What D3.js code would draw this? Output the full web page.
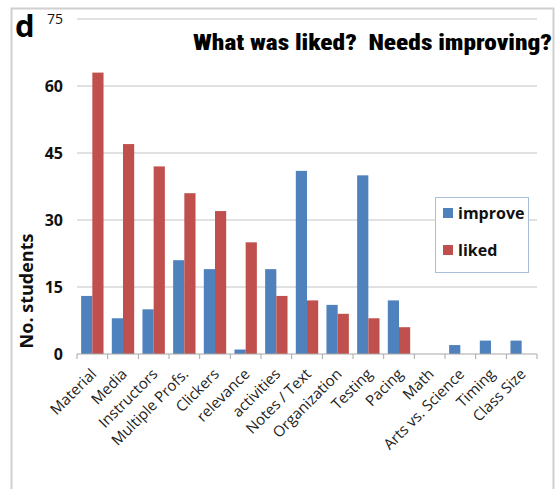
<!DOCTYPE html>
<html>
<head>
<meta charset="utf-8">
<script src="https://cdn.jsdelivr.net/npm/d3@7"></script>
<style>
  body { margin: 0; background: #fff; }
  svg { display: block; font-family: "Open Sans", "Liberation Sans", sans-serif; }
</style>
</head>
<body>
<script>
// data
var categories = ["Material", "Media", "Instructors", "Multiple Profs.", "Clickers", "relevance",
  "activities", "Notes / Text", "Organization", "Testing", "Pacing", "Math",
  "Arts vs. Science", "Timing", "Class Size"];
var improve = [13, 8, 10, 21, 19, 1, 19, 41, 11, 40, 12, 0, 2, 3, 3];
var liked   = [63, 47, 42, 36, 32, 25, 13, 12, 9, 8, 6, 0, 0, 0, 0];
var yTicks = [0, 15, 30, 45, 60, 75];
var seriesNames = ["improve", "liked"];
var colors = ["#4f81bd", "#c0504d"];

var W = 559, H = 489;
var margin = {top: 19, right: 22, bottom: 135, left: 77};
var width = W - margin.left - margin.right,
    height = H - margin.top - margin.bottom;

var svg = d3.select("body").append("svg")
    .attr("width", W)
    .attr("height", H);

// outer frame (no bottom edge visible)
svg.append("path")
    .attr("d", "M11.5,489 V8.5 H553.5 V489")
    .attr("fill", "none")
    .attr("stroke", "#d0d0d0")
    .attr("stroke-width", 2);

var g = svg.append("g")
    .attr("transform", "translate(" + margin.left + "," + margin.top + ")");

var x0 = d3.scaleBand().domain(categories).range([0, width]).paddingInner(0.27).paddingOuter(0.135);
var x1 = d3.scaleBand().domain(seriesNames).range([0, x0.bandwidth()]);
var y = d3.scaleLinear().domain([0, 75]).range([height, 0]);

// gridlines
g.selectAll("line.grid")
    .data(yTicks.filter(d => d > 0))
  .enter().append("line")
    .attr("class", "grid")
    .attr("x1", 0).attr("x2", width)
    .attr("y1", d => y(d)).attr("y2", d => y(d))
    .attr("stroke", "#c4c4c4")
    .attr("stroke-width", 1.2);

// bars
var rows = categories.map((c, i) => ({cat: c, vals: [improve[i], liked[i]]}));
var groups = g.selectAll("g.cat")
    .data(rows)
  .enter().append("g")
    .attr("transform", d => "translate(" + x0(d.cat) + ",0)");

groups.selectAll("rect")
    .data(d => d.vals.map((v, j) => ({key: seriesNames[j], v: v, j: j})))
  .enter().append("rect")
    .filter(d => d.v > 0)
    .attr("x", d => x1(d.key))
    .attr("width", x1.bandwidth())
    .attr("y", d => y(d.v))
    .attr("height", d => height - y(d.v))
    .attr("fill", d => colors[d.j]);

// x axis line with ticks between categories
var step = width / categories.length;
g.append("line")
    .attr("x1", 0).attr("x2", width)
    .attr("y1", height).attr("y2", height)
    .attr("stroke", "#a8a8a8").attr("stroke-width", 1.2);
g.selectAll("line.xtick")
    .data(d3.range(categories.length + 1))
  .enter().append("line")
    .attr("x1", d => d * step).attr("x2", d => d * step)
    .attr("y1", height).attr("y2", height + 5)
    .attr("stroke", "#a8a8a8");

// x labels
g.selectAll("text.xlab")
    .data(categories)
  .enter().append("text")
    .attr("transform", d => "translate(" + (x0(d) + x0.bandwidth() / 2 + 5) + "," + (height + 21) + ") rotate(-45)")
    .attr("text-anchor", "end")
    .attr("font-size", 15)
    .attr("fill", "#222")
    .text(d => d);

// y tick labels
g.selectAll("text.ylab")
    .data(yTicks)
  .enter().append("text")
    .attr("x", -14)
    .attr("y", d => y(d))
    .attr("dy", "0.36em")
    .attr("text-anchor", "end")
    .attr("font-size", d => d === 75 ? 14 : 16)
    .attr("font-weight", d => d === 75 ? "normal" : "bold")
    .attr("fill", "#111")
    .text(d => d);

// y axis title
svg.append("text")
    .attr("transform", "translate(33,291) rotate(-90)")
    .attr("text-anchor", "middle")
    .attr("font-size", 18)
    .attr("font-weight", "bold")
    .attr("fill", "#111")
    .text("No. students");

// panel letter
svg.append("text")
    .attr("x", 15).attr("y", 37)
    .attr("font-size", 31)
    .attr("font-weight", "bold")
    .attr("fill", "#000")
    .text("d");

// title
svg.append("text")
    .attr("x", 193).attr("y", 50)
    .attr("font-family", "'Liberation Sans Narrow', 'Roboto Condensed', 'Liberation Sans', sans-serif")
    .attr("font-size", 22)
    .attr("font-weight", "900")
    .attr("textLength", 359)
    .attr("lengthAdjust", "spacingAndGlyphs")
    .style("white-space", "pre")
    .attr("fill", "#000")
    .text("What was liked?  Needs improving?");

// legend
var legend = svg.append("g").attr("transform", "translate(435,197)");
legend.append("rect")
    .attr("x", 0.5).attr("y", 0.5)
    .attr("width", 93).attr("height", 75)
    .attr("fill", "#fff")
    .attr("stroke", "#a9bedb");
seriesNames.forEach(function(s, i) {
  legend.append("rect")
    .attr("x", 8).attr("y", 11 + i * 37)
    .attr("width", 10).attr("height", 10)
    .attr("fill", colors[i]);
  legend.append("text")
    .attr("x", 23).attr("y", 16 + i * 37)
    .attr("dy", "0.36em")
    .attr("font-size", 16)
    .attr("font-weight", "bold")
    .attr("fill", "#111")
    .text(s);
});
</script>
</body>
</html>
